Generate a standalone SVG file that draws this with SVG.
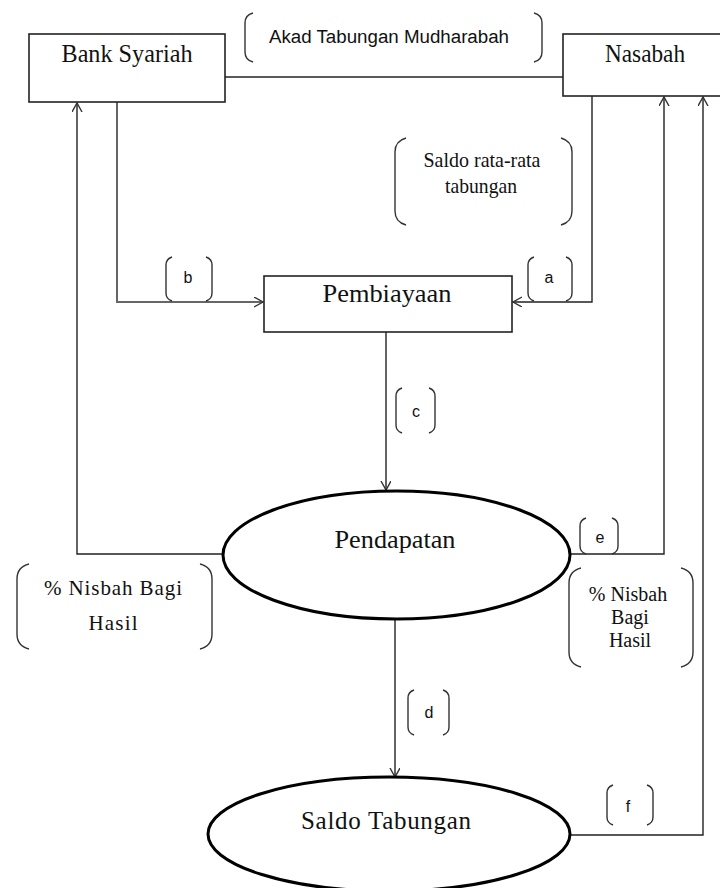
<svg xmlns="http://www.w3.org/2000/svg" width="720" height="888" viewBox="0 0 720 888">
<style>
.box{fill:#fff;stroke:#222;stroke-width:1.6}
.ell{fill:#fff;stroke:#000;stroke-width:3}
.br{fill:none;stroke:#333;stroke-width:1.4}
.ln{fill:none;stroke:#222;stroke-width:1.4}
.lg{fill:none;stroke:#666;stroke-width:2}
.serif{font-family:"Liberation Serif","Times New Roman",serif;fill:#111;text-anchor:middle}
.sans{font-family:"Liberation Sans",Arial,sans-serif;fill:#111;text-anchor:middle}
</style>
<defs>
<marker id="arr" markerUnits="userSpaceOnUse" markerWidth="12" markerHeight="12" refX="9" refY="5" orient="auto" viewBox="0 0 12 12">
<path d="M0,0 L9,5 L0,10" fill="none" stroke="#333" stroke-width="1.4"/>
</marker>
</defs>
<rect width="720" height="888" fill="#fff"/>

<g id="connectors">
<path class="ln" d="M225,77 H563"/>
<path class="lg" d="M117,102 V302 H263" marker-end="url(#arr)"/>
<path class="ln" d="M592,96 V302 H513" marker-end="url(#arr)"/>
<path class="ln" d="M386,332 V490" marker-end="url(#arr)"/>
<path class="ln" d="M223,554 H77 V103" marker-end="url(#arr)"/>
<path class="ln" d="M570,554 H664 V97" marker-end="url(#arr)"/>
<path class="ln" d="M395,619 V777" marker-end="url(#arr)"/>
<path class="ln" d="M570,835 H703 V97" marker-end="url(#arr)"/>
</g>

<g id="bank-syariah">
<rect class="box" x="29" y="34" width="196" height="68"/>
<text class="serif" x="127" y="62" font-size="25" textLength="131" lengthAdjust="spacingAndGlyphs">Bank Syariah</text>
</g>

<g id="nasabah">
<rect class="box" x="563" y="34" width="170" height="62"/>
<text class="serif" x="645" y="62" font-size="25" textLength="80" lengthAdjust="spacingAndGlyphs">Nasabah</text>
</g>

<g id="pembiayaan">
<rect class="box" x="264" y="276" width="248" height="56"/>
<text class="serif" x="387" y="302" font-size="25" textLength="129" lengthAdjust="spacingAndGlyphs">Pembiayaan</text>
</g>

<g id="pendapatan">
<ellipse class="ell" cx="396.5" cy="555" rx="173.5" ry="64"/>
<text class="serif" x="395" y="548" font-size="25" textLength="121" lengthAdjust="spacingAndGlyphs">Pendapatan</text>
</g>

<g id="saldo-tabungan">
<ellipse class="ell" cx="389" cy="834" rx="181" ry="57"/>
<text class="serif" x="386" y="829" font-size="25" textLength="170">Saldo Tabungan</text>
</g>

<g id="label-akad">
<path class="br" d="M253,13 Q245,15 245,23 L245,52 Q245,60 253,62 M534,13 Q542,15 542,23 L542,52 Q542,60 534,62"/>
<text class="sans" x="389" y="43" font-size="18" textLength="240" lengthAdjust="spacingAndGlyphs">Akad Tabungan Mudharabah</text>
</g>

<g id="label-saldo-rata">
<path class="br" d="M406,138 Q395,141 395,152 L395,211 Q395,222 406,225 M561,138 Q572,141 572,152 L572,211 Q572,222 561,225"/>
<text class="serif" x="482" y="167" font-size="21" textLength="117" lengthAdjust="spacingAndGlyphs">Saldo rata-rata</text>
<text class="serif" x="481" y="193" font-size="21" textLength="72" lengthAdjust="spacingAndGlyphs">tabungan</text>
</g>

<g id="label-b">
<path class="br" d="M172,257 Q166,259 166,265 L166,293 Q166,299 172,301 M206,257 Q212,259 212,265 L212,293 Q212,299 206,301"/>
<text class="sans" x="188" y="283" font-size="16">b</text>
</g>

<g id="label-a">
<path class="br" d="M534,257 Q528,259 528,265 L528,293 Q528,299 534,301 M566,257 Q572,259 572,265 L572,293 Q572,299 566,301"/>
<text class="sans" x="549" y="283" font-size="16">a</text>
</g>

<g id="label-c">
<path class="br" d="M402,388 Q396,390 396,396 L396,425 Q396,431 402,433 M429,388 Q435,390 435,396 L435,425 Q435,431 429,433"/>
<text class="sans" x="416" y="417" font-size="16">c</text>
</g>

<g id="label-e">
<path class="br" d="M586,518 Q580,520 580,526 L580,546 Q580,552 586,554 M612,518 Q618,520 618,526 L618,546 Q618,552 612,554"/>
<text class="sans" x="600" y="543" font-size="16">e</text>
</g>

<g id="label-nisbah-left">
<path class="br" d="M29,564 Q17,567 17,579 L17,634 Q17,646 29,649 M200,564 Q212,567 212,579 L212,634 Q212,646 200,649"/>
<text class="serif" x="113" y="595" font-size="21" textLength="138">% Nisbah Bagi</text>
<text class="serif" x="113" y="630" font-size="21" textLength="49">Hasil</text>
</g>

<g id="label-nisbah-right">
<path class="br" d="M581,568 Q569,571 569,583 L569,652 Q569,664 581,667 M681,568 Q693,571 693,583 L693,652 Q693,664 681,667"/>
<text class="serif" x="628" y="601" font-size="20">% Nisbah</text>
<text class="serif" x="630" y="624" font-size="20">Bagi</text>
<text class="serif" x="630" y="647" font-size="20">Hasil</text>
</g>

<g id="label-d">
<path class="br" d="M414,690 Q408,692 408,698 L408,727 Q408,733 414,735 M443,690 Q449,692 449,698 L449,727 Q449,733 443,735"/>
<text class="sans" x="429" y="718" font-size="16">d</text>
</g>

<g id="label-f">
<path class="br" d="M613,785 Q607,787 607,793 L607,817 Q607,823 613,825 M647,785 Q653,787 653,793 L653,817 Q653,823 647,825"/>
<text class="sans" x="628" y="812" font-size="16">f</text>
</g>
</svg>
